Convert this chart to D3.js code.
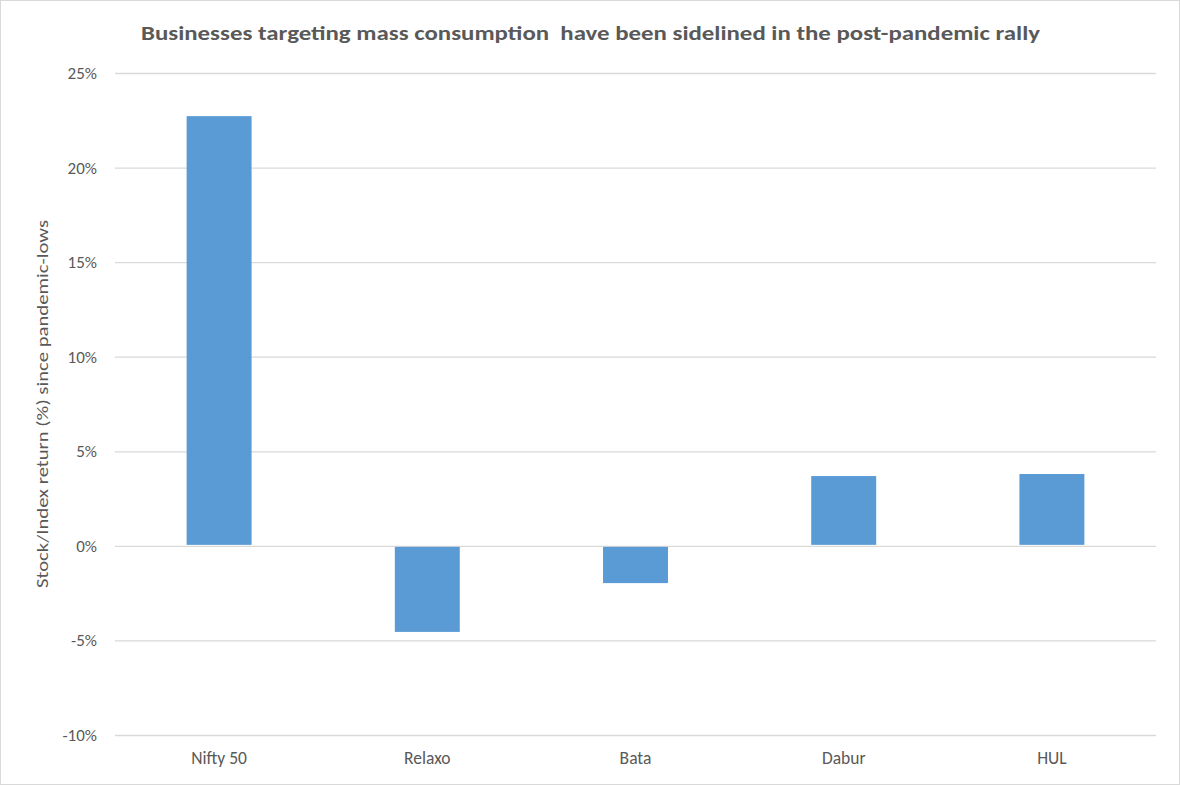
<!DOCTYPE html>
<html>
<head>
<meta charset="utf-8">
<script src="https://cdn.jsdelivr.net/npm/d3@7"></script>
<style>
  html, body { margin: 0; padding: 0; background: #fff; }
  svg { display: block; }
</style>
</head>
<body>
<svg id="chart" width="1180" height="785"></svg>
<script>
const categories = ["Nifty 50", "Relaxo", "Bata", "Dabur", "HUL"];
const values = [22.72, -4.55, -1.97, 3.69, 3.80];
const yTicks = [-10, -5, 0, 5, 10, 15, 20, 25];
const title = "Businesses targeting mass consumption  have been sidelined in the post-pandemic rally";
const yLabel = "Stock/Index return (%) since pandemic-lows";

const svg = d3.select("#chart");
const W = 1180, H = 785;
const font = "Carlito, Calibri, Lato, 'Open Sans', sans-serif";
const textColor = "#595959";

svg.append("rect").attr("x", 0.5).attr("y", 0.5).attr("width", W - 1).attr("height", H - 1)
  .attr("fill", "#fff").attr("stroke", "#D9D9D9").attr("stroke-width", 1);

const plot = { left: 115, right: 1156, top: 73, bottom: 735 };

const x = d3.scaleBand().domain(categories)
  .range([plot.left, plot.right])
  .paddingInner(0.688).paddingOuter(0.344);

const y = d3.scaleLinear().domain([-10, 25]).range([plot.bottom, plot.top]);

// gridlines
const yAxis = d3.axisLeft(y).tickValues(yTicks).tickSize(-(plot.right - plot.left)).tickFormat(d => d + "%").tickPadding(18);
const gy = svg.append("g").attr("transform", `translate(${plot.left},0)`).call(yAxis);
gy.select(".domain").remove();
gy.selectAll(".tick line").attr("stroke", "#D9D9D9").attr("stroke-width", 1.3);
gy.selectAll(".tick text").attr("fill", textColor).attr("font-family", font).attr("font-size", 17);

// bars
svg.append("g").selectAll("rect").data(categories).join("rect")
  .attr("x", d => x(d))
  .attr("width", x.bandwidth())
  .attr("y", (d, i) => values[i] >= 0 ? y(values[i]) : y(0) + 1)
  .attr("height", (d, i) => Math.abs(y(values[i]) - y(0)) - 1)
  .attr("fill", "#5B9BD5");

// x axis labels
const xAxis = d3.axisBottom(x).tickSize(0).tickPadding(17);
const gx = svg.append("g").attr("transform", `translate(0,${plot.bottom})`).call(xAxis);
gx.select(".domain").remove();
gx.selectAll(".tick text").attr("fill", textColor).attr("font-family", font).attr("font-size", 17.5);

// title
svg.append("text").attr("x", 590.5).attr("y", 40).attr("text-anchor", "middle")
  .style("white-space", "pre")
  .attr("font-family", font).attr("font-weight", "bold").attr("font-size", 21)
  .attr("fill", textColor)
  .attr("textLength", 899).attr("lengthAdjust", "spacingAndGlyphs")
  .text(title);

// y label
svg.append("text").attr("transform", `translate(48,${(plot.top + plot.bottom) / 2}) rotate(-90)`)
  .attr("text-anchor", "middle")
  .attr("font-family", font).attr("font-size", 16.5).attr("fill", textColor)
  .attr("textLength", 368).attr("lengthAdjust", "spacingAndGlyphs")
  .text(yLabel);
</script>
</body>
</html>
